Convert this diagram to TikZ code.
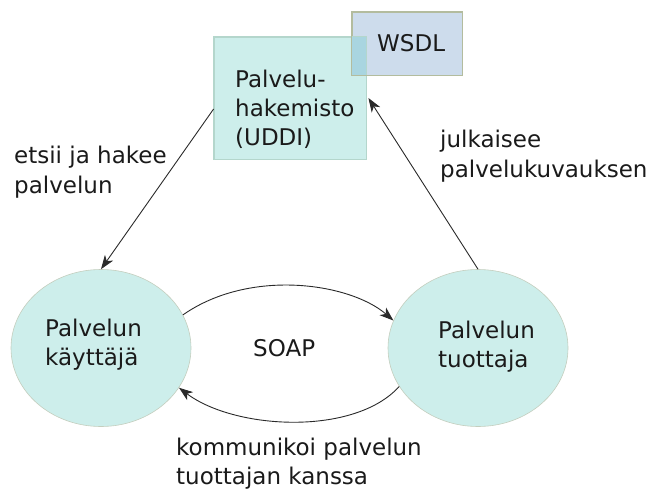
\documentclass[tikz,border=0pt]{standalone}
\usepackage{fontspec}
\setmainfont{DejaVu Sans}
\usetikzlibrary{shapes.geometric,arrows.meta}

\definecolor{nodefill}{HTML}{CDEEEB}
\definecolor{nodeline}{HTML}{B4D6CC}
\definecolor{ellline}{HTML}{C4CEBE}
\definecolor{wsdlfill}{HTML}{CDDCEC}
\definecolor{wsdlline}{HTML}{B3BC9E}
\definecolor{overlapfill}{HTML}{A9D5E0}
\definecolor{linecol}{HTML}{2A2A2A}
\definecolor{textcol}{HTML}{1A1A1A}

\begin{document}
\begin{tikzpicture}[x=1pt,y=-1pt,
  % multi-line nodes: the base anchor sits on the last line
  txt/.style={font=\fontsize{23}{29}\selectfont, align=left, inner sep=0pt,
              anchor=base west, text=textcol},
  regbox/.style={rectangle, fill=nodefill, draw=nodeline, line width=0.8pt, inner sep=0pt},
  wsdlbox/.style={rectangle, fill=wsdlfill, draw=wsdlline, line width=0.8pt, inner sep=0pt},
  party/.style={ellipse, fill=nodefill, draw=ellline, line width=0.6pt, inner sep=0pt,
                minimum width=180pt, minimum height=157pt},
  conn/.style={draw=linecol, line width=0.9pt,
               -{Stealth[length=14pt,width=10pt,inset=4pt]}}]

\useasboundingbox (0,0) rectangle (652,489);

% service registry and its WSDL tab
\node[regbox, minimum width=152pt, minimum height=122pt] (uddi) at (290,98) {};
\node[wsdlbox, minimum width=110pt, minimum height=63pt] (wsdl) at (407,43.5) {};
\fill[overlapfill] (wsdl.west |- uddi.north) rectangle (uddi.east |- wsdl.south);
\draw[nodeline, line width=0.8pt] (uddi.north west) rectangle (uddi.south east);
\draw[wsdlline, line width=0.8pt] (wsdl.north west) rectangle (wsdl.south east);

% consumer and provider
\node[party] (user) at (101,348) {};
\node[party] (prov) at (478,348) {};

% texts
\node[txt] (tuddi) at (235,146) {Palvelu-\\hakemisto\\(UDDI)};
\node[txt] (twsdl) at (377,52) {WSDL};
\node[txt] (tuser) at (45,365) {Palvelun\\käyttäjä};
\node[txt] (tprov) at (438,367) {Palvelun\\tuottaja};
\node[txt] (tsoap) at (253,356) {SOAP};
\node[txt] (tfind) at (14,193) {etsii ja hakee\\palvelun};
\node[txt] (tpub) at (440,177) {julkaisee\\palvelukuvauksen};
\node[txt] (tcomm) at (176,484) {kommunikoi palvelun\\tuottajan kanssa};

% connectors
\draw[conn] ([yshift=-11pt]uddi.west) -- (user.north);
\draw[conn] (prov.north) -- ([xshift=2pt]uddi.east);
\draw[conn] (user.22) .. controls (250,268) and (350,283) .. (prov.162);
\draw[conn] (prov.206) .. controls (355,436) and (235,430) .. (user.-27);

\end{tikzpicture}
\end{document}
